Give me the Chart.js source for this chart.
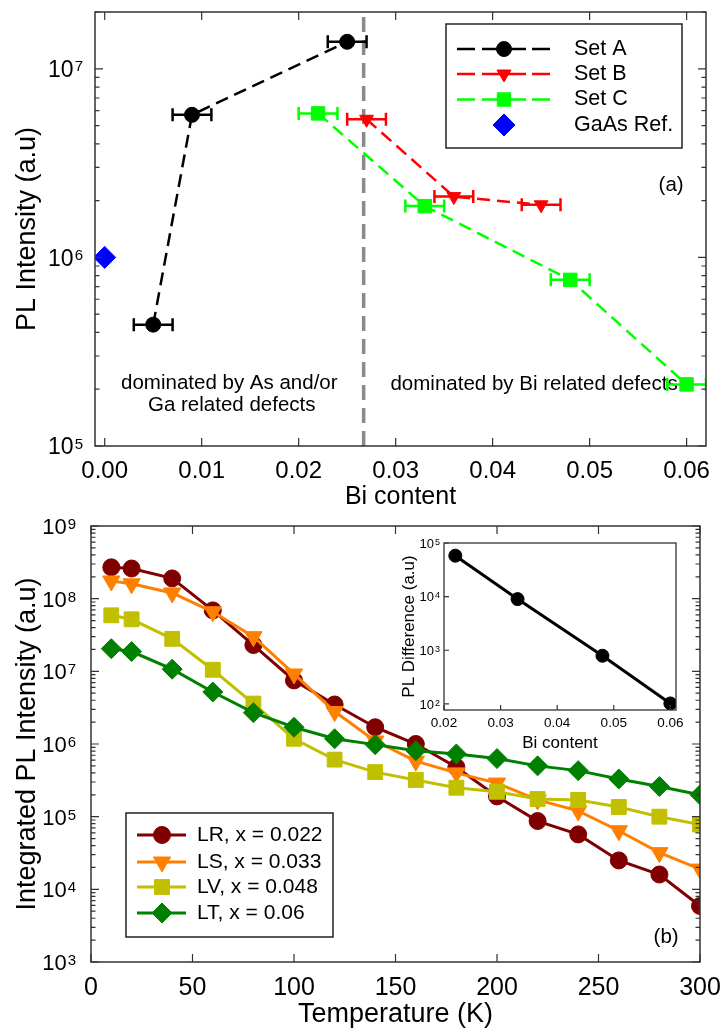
<!DOCTYPE html>
<html>
<head>
<meta charset="utf-8">
<script src="https://cdn.jsdelivr.net/npm/chart.js@4.4.1/dist/chart.umd.min.js"></script>
<style>
  html, body { margin: 0; padding: 0; background: #fff; }
  #wrap { position: relative; width: 722px; height: 1029px; overflow: hidden; }
  canvas { position: absolute; }
</style>
</head>
<body>
<div id="wrap">
  <canvas id="chartA" width="722" height="515" style="left:0;top:0"></canvas>
  <canvas id="chartB" width="722" height="524" style="left:0;top:505px"></canvas>
  <canvas id="chartInset" width="310" height="230" style="left:390px;top:530px"></canvas>
</div>
<script>
const FONT = "'Liberation Sans', Arial, Helvetica, sans-serif";

// ---- panel (a): PL intensity vs Bi content
const setAX = [0.005, 0.009, 0.025];
const setAY = [4.4e5, 5.7e6, 1.39e7];
const setAErr = [0.002, 0.002, 0.002];
const setBX = [0.027, 0.036, 0.045];
const setBY = [5.4e6, 2.1e6, 1.9e6];
const setBErr = [0.002, 0.002, 0.002];
const setCX = [0.022, 0.033, 0.048, 0.060];
const setCY = [5.8e6, 1.87e6, 7.6e5, 2.12e5];
const setCErr = [0.002, 0.002, 0.002, 0.002];
const gaasX = [0];
const gaasY = [1e6];
const dividerX = 0.0267;
const ticksAX = [0, 0.01, 0.02, 0.03, 0.04, 0.05, 0.06];
const labelsAX = ['0.00', '0.01', '0.02', '0.03', '0.04', '0.05', '0.06'];
const ticksAY = [1e5, 1e6, 1e7];

// ---- panel (b): integrated PL vs temperature
const temps = [10, 20, 40, 60, 80, 100, 120, 140, 160, 180, 200, 220, 240, 260, 280, 300];
const lrY = [2.7e8, 2.6e8, 1.9e8, 6.9e7, 2.3e7, 7.5e6, 3.5e6, 1.7e6, 1.0e6, 4.8e5, 1.9e5, 8.7e4, 5.7e4, 2.5e4, 1.6e4, 5.9e3];
const lsY = [1.75e8, 1.6e8, 1.2e8, 6.6e7, 3.0e7, 9.2e6, 2.8e6, 1.1e6, 5.8e5, 4.0e5, 2.9e5, 1.7e5, 1.2e5, 6.4e4, 3.2e4, 1.9e4];
const lvY = [5.9e7, 5.2e7, 2.8e7, 1.05e7, 3.6e6, 1.18e6, 6.1e5, 4.1e5, 3.2e5, 2.5e5, 2.2e5, 1.75e5, 1.7e5, 1.36e5, 1.0e5, 7.8e4];
const ltY = [2.05e7, 1.87e7, 1.07e7, 5.2e6, 2.7e6, 1.7e6, 1.18e6, 9.8e5, 8.1e5, 7.3e5, 6.3e5, 5.0e5, 4.3e5, 3.3e5, 2.6e5, 2.0e5];
const ticksBX = [0, 50, 100, 150, 200, 250, 300];
const labelsBX = ['0', '50', '100', '150', '200', '250', '300'];
const ticksBY = [1e3, 1e4, 1e5, 1e6, 1e7, 1e8, 1e9];

// ---- inset: PL difference vs Bi content
const insetX = [0.022, 0.033, 0.048, 0.060];
const insetY = [5.8e4, 9.0e3, 7.9e2, 1.02e2];
const ticksIX = [0.02, 0.03, 0.04, 0.05, 0.06];
const labelsIX = ['0.02', '0.03', '0.04', '0.05', '0.06'];
const ticksIY = [1e2, 1e3, 1e4, 1e5];

function pts(xs, ys) {
  return xs.map((x, i) => ({ x: x, y: ys[i] }));
}

// 10 with a raised exponent
function drawPow(ctx, exp, right, cy, size, supSize) {
  ctx.font = size + 'px ' + FONT;
  const w1 = ctx.measureText('10').width;
  ctx.font = supSize + 'px ' + FONT;
  const w2 = ctx.measureText(String(exp)).width;
  const left = right - w1 - w2 - 1;
  const base = cy + size * 0.36;
  ctx.textAlign = 'left';
  ctx.textBaseline = 'alphabetic';
  ctx.font = size + 'px ' + FONT;
  ctx.fillText('10', left, base);
  ctx.font = supSize + 'px ' + FONT;
  ctx.fillText(String(exp), left + w1 + 1, cy - size * 0.36 + supSize * 0.72);
}

// frame, inward ticks and tick labels
function axisDecor(opt) {
  return {
    id: 'axisDecor',
    afterDraw(chart) {
      const ctx = chart.ctx;
      const a = chart.chartArea;
      const x = chart.scales.x, y = chart.scales.y;
      ctx.save();
      ctx.strokeStyle = '#333';
      ctx.lineWidth = 1.2;
      ctx.beginPath();
      opt.xTicks.forEach(v => {
        const px = x.getPixelForValue(v);
        if (opt.xBottom) { ctx.moveTo(px, a.bottom); ctx.lineTo(px, a.bottom - opt.major); }
        if (opt.xTop) { ctx.moveTo(px, a.top); ctx.lineTo(px, a.top + opt.major); }
      });
      const lo = Math.floor(Math.log10(y.min)), hi = Math.ceil(Math.log10(y.max));
      for (let e = lo; e <= hi; e++) {
        for (let m = 1; m <= 9; m++) {
          const v = m * Math.pow(10, e);
          if (v < y.min * 0.999 || v > y.max * 1.001) continue;
          const len = m === 1 ? opt.major : opt.minor;
          if (!len) continue;
          const py = y.getPixelForValue(v);
          if (opt.yLeft) { ctx.moveTo(a.left, py); ctx.lineTo(a.left + len, py); }
          if (opt.yRight) { ctx.moveTo(a.right, py); ctx.lineTo(a.right - len, py); }
        }
      }
      ctx.stroke();
      ctx.lineWidth = opt.frame;
      ctx.strokeRect(a.left, a.top, a.right - a.left, a.bottom - a.top);

      ctx.fillStyle = '#000';
      ctx.font = opt.xFont + 'px ' + FONT;
      ctx.textAlign = 'center';
      ctx.textBaseline = 'middle';
      opt.xTicks.forEach((v, i) => {
        ctx.fillText(opt.xLabels[i], x.getPixelForValue(v), a.bottom + opt.xLabelGap);
      });
      opt.yTicks.forEach(v => {
        drawPow(ctx, Math.round(Math.log10(v)), opt.yLabelRight, y.getPixelForValue(v), opt.yFont, opt.supFont);
      });
      ctx.restore();
    }
  };
}

// horizontal error bars, drawn just under the dataset they belong to
const errorBars = {
  id: 'errorBars',
  beforeDatasetDraw(chart, args) {
    const ds = chart.data.datasets[args.index];
    if (!ds.xErr) return;
    const ctx = chart.ctx, a = chart.chartArea;
    const x = chart.scales.x, y = chart.scales.y;
    ctx.save();
    ctx.beginPath();
    ctx.rect(a.left, a.top, a.right - a.left, a.bottom - a.top);
    ctx.clip();
    ctx.strokeStyle = ds.borderColor;
    ctx.lineWidth = 2.5;
    ds.data.forEach((p, i) => {
      const x1 = x.getPixelForValue(p.x - ds.xErr[i]);
      const x2 = x.getPixelForValue(p.x + ds.xErr[i]);
      const py = y.getPixelForValue(p.y);
      ctx.beginPath();
      ctx.moveTo(x1, py); ctx.lineTo(x2, py);
      ctx.moveTo(x1, py - 6.5); ctx.lineTo(x1, py + 6.5);
      ctx.moveTo(x2, py - 6.5); ctx.lineTo(x2, py + 6.5);
      ctx.stroke();
    });
    ctx.restore();
  }
};

// text notes placed in data coordinates
function notes(list) {
  return {
    id: 'notes',
    beforeDatasetsDraw(chart) {
      const ctx = chart.ctx;
      ctx.save();
      ctx.fillStyle = '#000';
      ctx.textAlign = 'center';
      ctx.textBaseline = 'middle';
      list.forEach(n => {
        ctx.font = n.size + 'px ' + FONT;
        ctx.fillText(n.text, chart.scales.x.getPixelForValue(n.x), chart.scales.y.getPixelForValue(n.y));
      });
      ctx.restore();
    }
  };
}

// boxed legend built from the datasets
function legendBox(opt) {
  return {
    id: 'legendBox',
    afterDraw(chart) {
      const ctx = chart.ctx;
      const b = opt.box;
      ctx.save();
      ctx.fillStyle = '#fff';
      ctx.fillRect(b[0], b[1], b[2] - b[0], b[3] - b[1]);
      ctx.strokeStyle = '#222';
      ctx.lineWidth = 1.5;
      ctx.strokeRect(b[0], b[1], b[2] - b[0], b[3] - b[1]);
      opt.items.forEach((idx, i) => {
        const ds = chart.data.datasets[idx];
        const yy = opt.rowY[i];
        if (ds.showLine !== false) {
          ctx.strokeStyle = ds.borderColor;
          ctx.lineWidth = ds.borderWidth;
          ctx.beginPath();
          opt.segments.forEach(s => { ctx.moveTo(s[0], yy); ctx.lineTo(s[1], yy); });
          ctx.stroke();
        }
        ctx.fillStyle = ds.pointBackgroundColor;
        ctx.strokeStyle = ds.pointBorderColor;
        ctx.lineWidth = 1;
        Chart.helpers.drawPoint(ctx, {
          pointStyle: ds.pointStyle, radius: ds.pointRadius,
          rotation: ds.pointRotation || 0, borderWidth: 1
        }, opt.markerX, yy);
        ctx.fillStyle = '#000';
        ctx.font = opt.font + 'px ' + FONT;
        ctx.textAlign = 'left';
        ctx.textBaseline = 'middle';
        ctx.fillText(ds.label, opt.textX, yy);
      });
      ctx.restore();
    }
  };
}

function series(label, data, color, style, radius, extra) {
  return Object.assign({
    label: label, data: data,
    borderColor: color, backgroundColor: color,
    pointBackgroundColor: color, pointBorderColor: color, pointBorderWidth: 1,
    pointStyle: style, pointRadius: radius, borderWidth: 3,
    showLine: true, tension: 0
  }, extra || {});
}

function baseScales(o) {
  return {
    x: {
      type: 'linear', min: o.xMin, max: o.xMax,
      grid: { display: false }, border: { display: false },
      ticks: { display: false },
      afterBuildTicks: s => { s.ticks = o.xTicks.map(v => ({ value: v })); },
      afterFit: s => { s.height = o.xHeight; },
      title: {
        display: true, text: o.xTitle, color: '#000',
        font: { family: FONT, size: o.xTitleSize, lineHeight: 1 },
        padding: { top: 0, bottom: o.xTitlePad }
      }
    },
    y: {
      type: 'logarithmic', min: o.yMin, max: o.yMax,
      grid: { display: false }, border: { display: false },
      ticks: { display: false },
      afterBuildTicks: s => { s.ticks = o.yTicks.map(v => ({ value: v })); },
      afterFit: s => { s.width = o.yWidth; },
      title: {
        display: true, text: o.yTitle, color: '#000',
        font: { family: FONT, size: o.yTitleSize, lineHeight: 1 },
        padding: { top: o.yTitlePad, bottom: 0 }
      }
    }
  };
}

const common = {
  responsive: false, animation: false, devicePixelRatio: 1,
  plugins: { legend: { display: false }, tooltip: { enabled: false } }
};

// ---------- chart (a)
new Chart(document.getElementById('chartA'), {
  type: 'scatter',
  data: {
    datasets: [
      series('divider', [{ x: dividerX, y: 1e5 }, { x: dividerX, y: 2e7 }], '#8a8a8a', 'circle', 0,
        { borderWidth: 3.5, borderDash: [15, 8], order: 10 }),
      series('Set A', pts(setAX, setAY), '#000000', 'circle', 7.5,
        { borderWidth: 2.5, borderDash: [13, 7], xErr: setAErr, order: 1 }),
      series('Set B', pts(setBX, setBY), '#ff0000', 'triangle', 8,
        { borderWidth: 2.5, borderDash: [13, 7], pointRotation: 180, xErr: setBErr, order: 2 }),
      series('Set C', pts(setCX, setCY), '#00ff00', 'rect', 9.5,
        { borderWidth: 2.5, borderDash: [13, 7], xErr: setCErr, order: 3 }),
      series('GaAs Ref.', pts(gaasX, gaasY), '#0000ff', 'rectRot', 11,
        { showLine: false, order: 4 })
    ]
  },
  options: Object.assign({}, common, {
    layout: { padding: { left: 0, right: 16, top: 8, bottom: 0 } },
    scales: baseScales({
      xMin: -0.001, xMax: 0.062, xTicks: ticksAX, xHeight: 69,
      xTitle: 'Bi content', xTitleSize: 25, xTitlePad: 5,
      yMin: 1e5, yMax: 2e7, yTicks: ticksAY, yWidth: 95,
      yTitle: 'PL Intensity (a.u)', yTitleSize: 27, yTitlePad: 14
    })
  }),
  plugins: [
    errorBars,
    notes([
      { text: 'dominated by As and/or', x: 0.01285, y: 2.14e5, size: 20.5 },
      { text: 'Ga related defects', x: 0.0131, y: 1.64e5, size: 20.5 },
      { text: 'dominated by Bi related defects', x: 0.04427, y: 2.12e5, size: 20.5 },
      { text: '(a)', x: 0.0584, y: 2.41e6, size: 20.5 }
    ]),
    axisDecor({
      xTicks: ticksAX, xLabels: labelsAX, yTicks: ticksAY,
      xBottom: true, xTop: true, yLeft: true, yRight: true,
      major: 8, minor: 4.5, frame: 1.5,
      xFont: 24, xLabelGap: 25.5, yFont: 23, supFont: 15, yLabelRight: 83
    }),
    legendBox({
      box: [446, 24, 682, 148], items: [1, 2, 3, 4], rowY: [49, 74, 99.5, 125],
      segments: [[457, 475], [482, 526], [532, 550]], markerX: 504, textX: 574, font: 21.5
    })
  ]
});

// ---------- chart (b)
new Chart(document.getElementById('chartB'), {
  type: 'scatter',
  data: {
    datasets: [
      series('LR, x = 0.022', pts(temps, lrY), '#800000', 'circle', 8.5, { order: 4 }),
      series('LS, x = 0.033', pts(temps, lsY), '#ff8000', 'triangle', 10, { pointRotation: 180, order: 3 }),
      series('LV, x = 0.048', pts(temps, lvY), '#c0c000', 'rect', 10.5, { order: 2 }),
      series('LT, x = 0.06', pts(temps, ltY), '#008000', 'rectRot', 10, { order: 1 })
    ]
  },
  options: Object.assign({}, common, {
    layout: { padding: { left: 0, right: 22, top: 21, bottom: 0 } },
    scales: baseScales({
      xMin: 0, xMax: 300, xTicks: ticksBX, xHeight: 67,
      xTitle: 'Temperature (K)', xTitleSize: 27, xTitlePad: 0.5,
      yMin: 1e3, yMax: 1e9, yTicks: ticksBY, yWidth: 91,
      yTitle: 'Integrated PL Intensity (a.u)', yTitleSize: 27, yTitlePad: 14.5
    })
  }),
  plugins: [
    notes([{ text: '(b)', x: 283.3, y: 2.21e3, size: 20.5 }]),
    axisDecor({
      xTicks: ticksBX, xLabels: labelsBX, yTicks: ticksBY,
      xBottom: true, xTop: true, yLeft: true, yRight: true,
      major: 8, minor: 4.5, frame: 1.5,
      xFont: 25, xLabelGap: 26, yFont: 22, supFont: 15, yLabelRight: 76
    }),
    legendBox({
      box: [126, 308, 333, 432], items: [0, 1, 2, 3], rowY: [330, 357, 382, 408],
      segments: [[137, 186]], markerX: 162, textX: 197, font: 21
    })
  ]
});

// ---------- inset
new Chart(document.getElementById('chartInset'), {
  type: 'scatter',
  data: {
    datasets: [
      series('PL difference', pts(insetX, insetY), '#000000', 'circle', 6.5, { borderWidth: 3 })
    ]
  },
  options: Object.assign({}, common, {
    layout: { padding: { left: 0, right: 24, top: 13, bottom: 0 } },
    scales: baseScales({
      xMin: 0.02, xMax: 0.061, xTicks: ticksIX, xHeight: 50,
      xTitle: 'Bi content', xTitleSize: 17, xTitlePad: 8.5,
      yMin: 77, yMax: 1e5, yTicks: ticksIY, yWidth: 54,
      yTitle: 'PL Difference (a.u)', yTitleSize: 17, yTitlePad: 10.5
    })
  }),
  plugins: [
    axisDecor({
      xTicks: ticksIX, xLabels: labelsIX, yTicks: ticksIY,
      xBottom: true, xTop: false, yLeft: true, yRight: false,
      major: 5, minor: 0, frame: 1.3,
      xFont: 13.5, xLabelGap: 13, yFont: 13, supFont: 9, yLabelRight: 50
    })
  ]
});
</script>
</body>
</html>
